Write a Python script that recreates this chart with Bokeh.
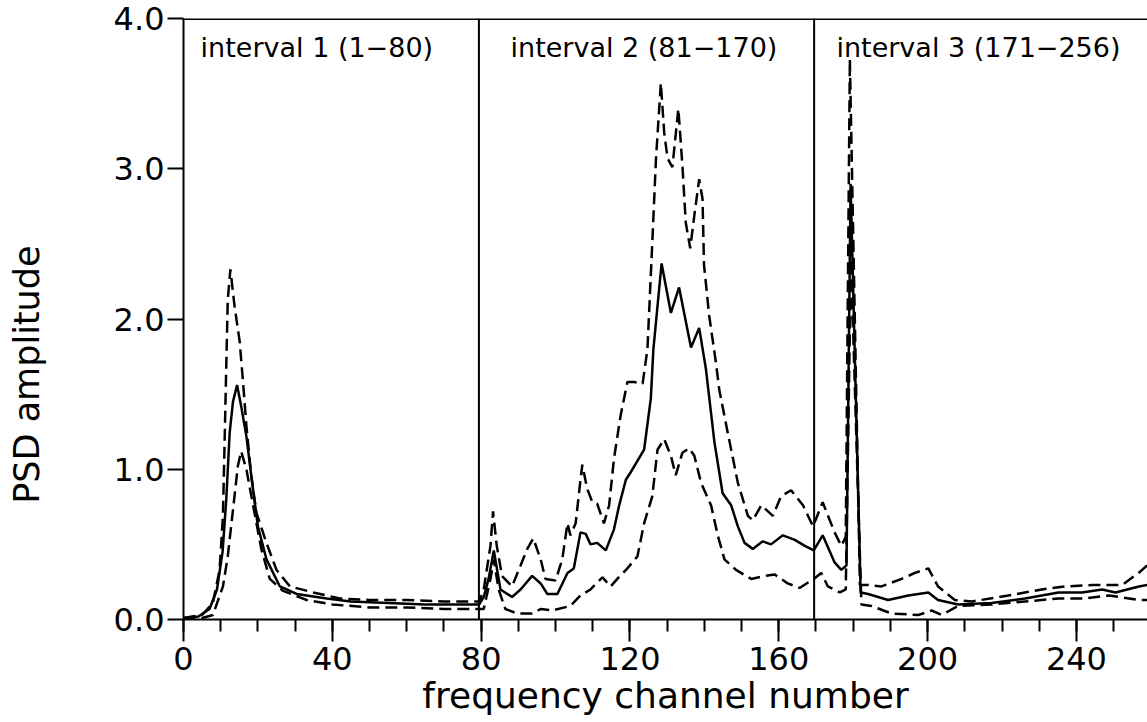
from bokeh.plotting import figure
from bokeh.models import FixedTicker, PrintfTickFormatter, Span, Range1d, Label
from bokeh.embed import file_html
from bokeh.resources import INLINE

# ---- data: (frequency channel, PSD amplitude) ----
mean_psd = [(0, 0.01), (4, 0.02), (7, 0.07), (9, 0.2), (10.5, 0.45), (11.5, 0.8), (12.4, 1.24),
            (13.3, 1.45), (14.4, 1.56), (15.5, 1.42), (16.9, 1.22), (18.2, 0.96), (20, 0.62),
            (22.3, 0.40), (25.9, 0.22), (30.4, 0.17), (38.5, 0.14), (45, 0.12), (55, 0.11),
            (65, 0.10), (75, 0.10), (79.5, 0.10), (80.7, 0.15), (82, 0.27), (83.4, 0.46),
            (84.3, 0.33), (85.2, 0.2), (88.3, 0.15), (90.6, 0.2), (93.7, 0.29), (96, 0.24),
            (97.8, 0.17), (100.5, 0.17), (103.2, 0.31), (104.9, 0.34), (106.7, 0.58),
            (108.1, 0.57), (109.4, 0.5), (111.2, 0.51), (113.5, 0.46), (115.7, 0.6),
            (117.1, 0.76), (118.9, 0.93), (120.2, 0.98), (123.8, 1.13), (125.6, 1.47),
            (126.3, 1.8), (128.5, 2.37), (131, 2.04), (133.2, 2.21), (136.4, 1.81),
            (138.6, 1.94), (140.4, 1.67), (142.7, 1.18), (144.9, 0.84), (147.2, 0.76),
            (149, 0.62), (150.8, 0.51), (153, 0.47), (155.7, 0.52), (157.9, 0.5), (161.1, 0.56),
            (164.3, 0.53), (167, 0.49), (169.4, 0.46), (171.8, 0.56), (175, 0.38), (176.8, 0.33),
            (178.2, 0.36), (179.3, 2.9), (182, 0.18), (184, 0.17), (189.4, 0.13), (194.8, 0.16),
            (200.2, 0.18), (202.8, 0.13), (208.2, 0.1), (217.2, 0.11), (226.2, 0.14),
            (235.2, 0.18), (241.5, 0.18), (246.9, 0.2), (250.5, 0.18), (256.8, 0.22), (259, 0.23)]

upper_psd = [(0, 0.01), (5, 0.03), (7.9, 0.11), (9.7, 0.33), (10.6, 0.69), (11, 1.13), (11.5, 1.69),
             (11.9, 2.13), (12.6, 2.33), (13.7, 2.09), (15.1, 1.85), (16, 1.58), (16.9, 1.29),
             (18.2, 0.96), (19.6, 0.71), (22.3, 0.51), (25, 0.33), (28.6, 0.22), (34.9, 0.18),
             (42, 0.14), (50, 0.13), (60, 0.13), (70, 0.12), (79.5, 0.12), (80.7, 0.2),
             (82.5, 0.49), (83.2, 0.72), (84.2, 0.49), (85.6, 0.29), (88.3, 0.22), (90.6, 0.36),
             (92.4, 0.47), (94, 0.54), (96, 0.4), (97.3, 0.27), (100, 0.26), (101.8, 0.4),
             (103.2, 0.64), (104, 0.56), (105.4, 0.64), (106.7, 0.93), (107.2, 1.03),
             (108.5, 0.87), (109.9, 0.78), (111.2, 0.77), (113, 0.64), (114.4, 0.76),
             (115.7, 1.07), (117.5, 1.36), (119.3, 1.58), (121.1, 1.58), (123.4, 1.57),
             (124.7, 1.8), (126, 2.51), (127, 3.07), (128.3, 3.57), (129.2, 3.24), (130.1, 3.07),
             (131.4, 3.01), (133, 3.4), (134.1, 3.02), (135, 2.64), (136.2, 2.47), (137.3, 2.69),
             (138.6, 2.93), (139.5, 2.8), (139.9, 2.36), (141.3, 2.02), (143.1, 1.71),
             (144, 1.53), (146.3, 1.24), (149, 0.91), (151.7, 0.69), (153, 0.66), (155.3, 0.76),
             (158.4, 0.69), (160.6, 0.82), (163.3, 0.86), (166.5, 0.76), (169.2, 0.62),
             (171.8, 0.78), (175, 0.58), (176.8, 0.49), (178, 0.55), (179.1, 3.73), (181.8, 0.23),
             (184, 0.23), (187.6, 0.22), (193, 0.27), (196.6, 0.31), (200.2, 0.34), (202.8, 0.22),
             (207.3, 0.13), (211.9, 0.12), (221.7, 0.16), (230.7, 0.2), (237, 0.22), (244.2, 0.23),
             (247.8, 0.23), (252.3, 0.23), (257.2, 0.32), (259, 0.36)]

lower_psd = [(0, 0.0), (5, 0.01), (7.9, 0.03), (10.6, 0.22), (11.9, 0.42), (13.3, 0.73), (14.6, 1.02),
             (15.5, 1.12), (16.9, 1.0), (18.7, 0.76), (20.9, 0.47), (23.2, 0.27), (26.8, 0.19),
             (33.1, 0.13), (40, 0.1), (50, 0.08), (60, 0.08), (70, 0.07), (79.5, 0.07),
             (80.7, 0.07), (82.5, 0.27), (83.4, 0.4), (84.7, 0.2), (86.5, 0.07), (89.7, 0.04),
             (93.7, 0.04), (96, 0.07), (99.1, 0.06), (104, 0.09), (106.7, 0.16), (109.4, 0.2),
             (112.6, 0.28), (114.8, 0.22), (116.6, 0.27), (119.3, 0.34), (122, 0.42),
             (123.8, 0.64), (126, 0.82), (127.4, 1.13), (129.2, 1.2), (131, 1.09), (132.3, 0.96),
             (134.1, 1.11), (135.9, 1.14), (137.3, 1.09), (139.1, 0.91), (141.8, 0.76),
             (143.6, 0.56), (145.4, 0.4), (148.5, 0.33), (152.6, 0.27), (156.2, 0.29),
             (158.9, 0.3), (162.4, 0.24), (165.6, 0.21), (169.4, 0.27), (171.4, 0.31),
             (173.2, 0.22), (176.4, 0.18), (178, 0.2), (179.4, 2.4), (182.2, 0.1), (184.9, 0.09),
             (190.3, 0.04), (197.5, 0.03), (201.1, 0.06), (203.8, 0.03), (208.2, 0.09),
             (217.2, 0.1), (226.2, 0.12), (235.2, 0.14), (242.4, 0.14), (248.7, 0.16),
             (256.8, 0.13), (259, 0.13)]

interval_labels = ["interval 1 (1\u221280)", "interval 2 (81\u2212170)", "interval 3 (171\u2212256)"]
interval_bounds = [79.4, 169.5]
x_major = [0, 40, 80, 120, 160, 200, 240]
x_minor = list(range(0, 260, 10))
y_major = [0, 1, 2, 3, 4]

FONT = "DejaVu Sans"

# trailing non-breaking spaces push the rotated title below the frame centre, as in the reference
y_title = "PSD amplitude" + "\u00a0" * 10

p = figure(width=1147, height=720, output_backend="svg", toolbar_location=None,
           x_range=Range1d(0, 259.1), y_range=Range1d(0, 4.0),
           min_border_left=183, min_border_right=0, min_border_top=18, min_border_bottom=101,
           x_axis_label="frequency channel number", y_axis_label=y_title)
p.outline_line_color = None
p.grid.visible = False
p.background_fill_color = "white"

for ax in (p.xaxis[0], p.yaxis[0]):
    ax.axis_line_color = "black"
    ax.axis_line_width = 2
    ax.major_tick_line_color = "black"
    ax.major_tick_line_width = 2
    ax.minor_tick_line_color = "black"
    ax.minor_tick_line_width = 2
    ax.major_tick_in = 0
    ax.minor_tick_in = 0
    ax.major_label_text_font = FONT
    ax.major_label_text_font_size = "32px"
    ax.major_label_text_color = "black"
    ax.axis_label_text_font = FONT
    ax.axis_label_text_font_style = "normal"
    ax.axis_label_text_color = "black"

p.xaxis.ticker = FixedTicker(ticks=x_major, minor_ticks=x_minor)
p.xaxis.major_tick_out = 22
p.xaxis.minor_tick_out = 12
p.xaxis.major_label_standoff = 5
p.xaxis.axis_label_standoff = 2
p.xaxis.axis_label_text_font_size = "36px"

p.yaxis.ticker = FixedTicker(ticks=y_major, minor_ticks=[])
p.yaxis.formatter = PrintfTickFormatter(format="%.1f")
p.yaxis.major_tick_out = 16
p.yaxis.minor_tick_out = 0
p.yaxis.major_label_standoff = 3
p.yaxis.axis_label_standoff = 64
p.yaxis.axis_label_text_font_size = "35px"

# frame top line and interval boundaries
p.add_layout(Span(location=4.0, dimension="width", line_color="black", line_width=3))
for b in interval_bounds:
    p.add_layout(Span(location=b, dimension="height", line_color="black", line_width=2))

def xy(pairs):
    return [a for a, _ in pairs], [b for _, b in pairs]

mx, my = xy(mean_psd)
ux, uy = xy(upper_psd)
lx, ly = xy(lower_psd)
p.line(ux, uy, line_color="black", line_width=2.5, line_dash="12 6")
p.line(lx, ly, line_color="black", line_width=2.5, line_dash="12 6")
p.line(mx, my, line_color="black", line_width=2.5)

label_x = [4.6, 87.9, 175.5]
for txt, lx0 in zip(interval_labels, label_x):
    p.add_layout(Label(x=lx0, y=3.81, text=txt, text_font=FONT, text_font_size="27px",
                       text_baseline="middle", text_color="black"))

open("out.html", "w").write(file_html(p, INLINE))
